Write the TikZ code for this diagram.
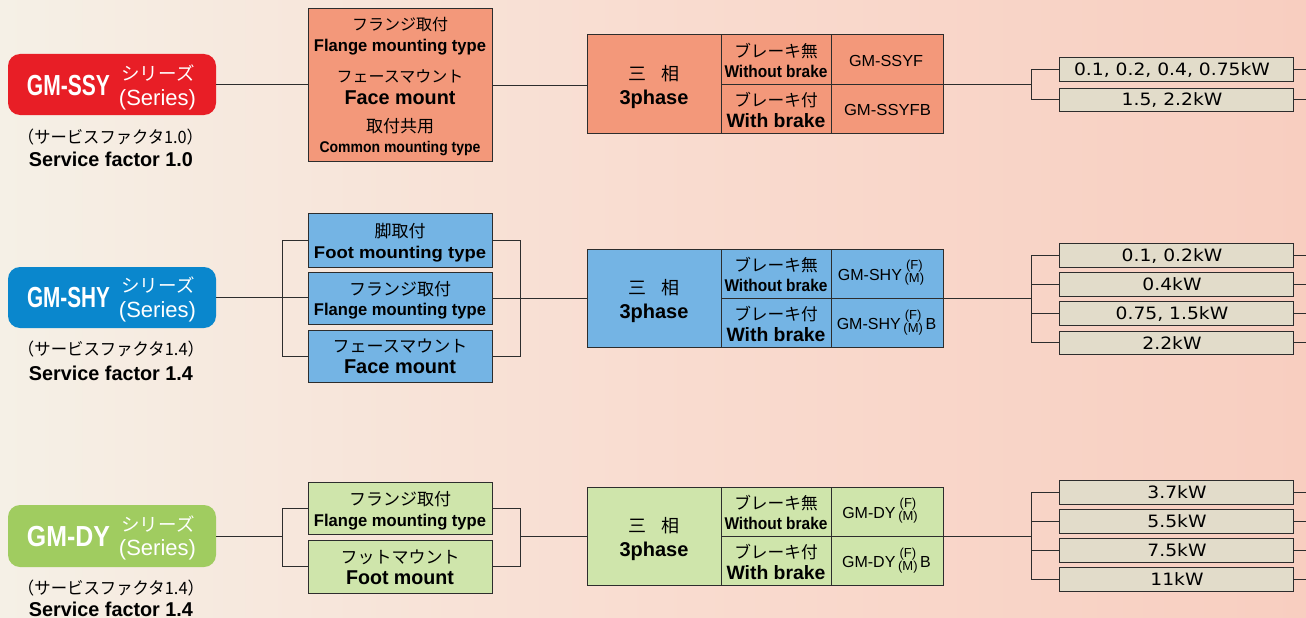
\documentclass[tikz,border=0pt]{standalone}
\usepackage{fontspec}
\setmainfont{Liberation Sans}
\newfontfamily\jp{Noto Sans CJK JP}
\newfontfamily\dv{DejaVu Sans}
\usepackage{graphicx}
\definecolor{ssyred}{RGB}{232,30,38}
\definecolor{shyblue}{RGB}{10,135,205}
\definecolor{dygreen}{RGB}{160,204,96}
\definecolor{salmon}{RGB}{243,152,122}
\definecolor{lblue}{RGB}{116,180,228}
\definecolor{lgreen}{RGB}{207,229,171}
\definecolor{beige}{RGB}{226,220,202}
\definecolor{edge}{RGB}{45,45,45}
\definecolor{bgl}{RGB}{245,240,230}
\definecolor{bgm}{RGB}{249,220,208}
\definecolor{bgr}{RGB}{248,206,192}
\newcommand\wfit[2]{\resizebox{#1pt}{\height}{#2}}
\newcommand\sxs[2]{\scalebox{#1}[1]{#2}}
\newcommand\mklbl[6][]{\node[lb,#1] (#2) at ({#3},{#4+0.36*#5}) {\fontsize{#5pt}{#5pt}\selectfont #6};}
\newcommand\mkrect[6]{\node[#6, anchor=north west, minimum width={(#4)-(#2)}, minimum height={(#5)-(#3)}] (#1) at ({#2},{#3}) {};}
\newcommand\fmstack{\raisebox{4pt}{\fontsize{13pt}{12pt}\selectfont\begin{tabular}[c]{@{}c@{}}(F)\\(M)\end{tabular}}}
\newcommand\mktable[7]{%
  \mkrect{#1a}{587}{#2}{721}{#2+98}{#3}
  \mkrect{#1b}{721}{#2}{831}{#2+49}{#3}
  \mkrect{#1c}{721}{#2+49}{831}{#2+98}{#3}
  \mkrect{#1d}{831}{#2}{943}{#2+49}{#3}
  \mkrect{#1e}{831}{#2+49}{943}{#2+98}{#3}
  \mklbl{#1a1}{654}{#2+39}{18}{\jp 三\hspace{15pt}相}
  \mklbl{#1a2}{654}{#2+62}{20}{\bfseries 3phase}
  \mklbl{#1b1}{776}{#2+16.5}{16.7}{\jp ブレーキ無}
  \mklbl{#1b2}{776}{#2+36}{17}{\wfit{103}{\bfseries Without brake}}
  \mklbl{#1c1}{776}{#2+65}{16.7}{\jp ブレーキ付}
  \mklbl{#1c2}{776}{#2+85.5}{19.3}{\wfit{99}{\bfseries With brake}}
  \mklbl{#1d1}{#4}{#2+25.5}{16}{#5}
  \mklbl{#1e1}{#6}{#2+75}{16}{#7}
}
\begin{document}
\begin{tikzpicture}[x=1pt,y=-1pt,
  lb/.style={inner sep=0pt, outer sep=0pt, anchor=base},
  badge/.style={rounded corners=12pt, inner sep=0pt, outer sep=0pt},
  mbox/.style={draw=edge, line width=1pt, inner sep=0pt, outer sep=0pt},
  sfill/.style={mbox, fill=salmon},
  bfill/.style={mbox, fill=lblue},
  gfill/.style={mbox, fill=lgreen},
  kbox/.style={mbox, fill=beige},
  ln/.style={draw=edge, line width=1pt}]
\useasboundingbox (0,0) rectangle (1306,618);
\shade[left color=bgl, right color=bgr, middle color=bgm] (0,0) rectangle (1306,618);

% ---------- badges ----------
\mkrect{b1}{8}{54}{216}{115}{badge, fill=ssyred}
\mklbl[text=white]{b1n}{68.5}{85}{29}{\wfit{83}{\bfseries GM-SSY}}
\mklbl[text=white]{b1s}{158}{74}{18.5}{\jp シリーズ}
\mklbl[text=white]{b1e}{157.5}{97.5}{22}{(Series)}
\mklbl{b1f}{110.5}{137}{17}{\wfit{185}{\jp （サービスファクタ1.0）}}
\mklbl{b1g}{111}{159}{20}{\wfit{164}{\bfseries Service factor 1.0}}

\mkrect{b2}{8}{267}{216}{328}{badge, fill=shyblue}
\mklbl[text=white]{b2n}{68.5}{297.5}{29}{\wfit{83}{\bfseries GM-SHY}}
\mklbl[text=white]{b2s}{158}{286}{18.5}{\jp シリーズ}
\mklbl[text=white]{b2e}{157.5}{310}{22}{(Series)}
\mklbl{b2f}{111}{349}{17}{\wfit{186}{\jp （サービスファクタ1.4）}}
\mklbl{b2g}{111}{373}{20}{\wfit{164}{\bfseries Service factor 1.4}}

\mkrect{b3}{8}{505}{216}{567}{badge, fill=dygreen}
\mklbl[text=white]{b3n}{68.5}{536.5}{29}{\wfit{83}{\bfseries GM-DY}}
\mklbl[text=white]{b3s}{158}{525}{18.5}{\jp シリーズ}
\mklbl[text=white]{b3e}{157.5}{547.5}{22}{(Series)}
\mklbl{b3f}{111}{588}{17}{\wfit{186}{\jp （サービスファクタ1.4）}}
\mklbl{b3g}{111}{609}{20}{\wfit{164}{\bfseries Service factor 1.4}}

% ---------- mounting boxes ----------
\mkrect{m1}{308}{9}{492}{161}{sfill}
\mklbl{m1a}{400}{25}{16}{\jp フランジ取付}
\mklbl{m1b}{400}{45}{17}{\wfit{172}{\bfseries Flange mounting type}}
\mklbl{m1c}{400}{77}{16}{\jp フェースマウント}
\mklbl{m1d}{400}{97}{20}{\wfit{111}{\bfseries Face mount}}
\mklbl{m1e}{400}{126}{17}{\jp 取付共用}
\mklbl{m1f}{400}{147}{15.5}{\wfit{161}{\bfseries Common mounting type}}

\mkrect{m21}{308}{213}{492}{267}{bfill}
\mklbl{m21a}{400}{231}{17}{\jp 脚取付}
\mklbl{m21b}{400}{252}{17}{\wfit{172}{\bfseries Foot mounting type}}
\mkrect{m22}{308}{272}{492}{324}{bfill}
\mklbl{m22a}{400}{289}{17}{\jp フランジ取付}
\mklbl{m22b}{400}{309}{17}{\wfit{172}{\bfseries Flange mounting type}}
\mkrect{m23}{308}{330}{492}{382}{bfill}
\mklbl{m23a}{400}{346}{17}{\jp フェースマウント}
\mklbl{m23b}{400}{366.5}{20}{\wfit{112}{\bfseries Face mount}}

\mkrect{m31}{308}{482}{492}{534}{gfill}
\mklbl{m31a}{400}{499.5}{17}{\jp フランジ取付}
\mklbl{m31b}{400}{520.5}{17}{\wfit{172}{\bfseries Flange mounting type}}
\mkrect{m32}{308}{540}{492}{593}{gfill}
\mklbl{m32a}{400}{557}{17}{\jp フットマウント}
\mklbl{m32b}{400}{577}{20}{\wfit{108}{\bfseries Foot mount}}

% ---------- phase tables ----------
\mktable{t1}{35}{sfill}{886}{\wfit{74}{GM-SSYF}}{887.5}{\wfit{87}{GM-SSYFB}}
\mktable{t2}{249}{bfill}{881}{GM-SHY\,\fmstack}{886.5}{GM-SHY\,\fmstack\,B}
\mktable{t3}{487}{gfill}{880}{GM-DY\,\fmstack}{886.5}{GM-DY\,\fmstack\,B}

% ---------- kW boxes ----------
\mkrect{k11}{1059}{58}{1293}{81}{kbox}
\mkrect{k12}{1059}{88}{1293}{111}{kbox}
\mklbl{k11t}{1172}{69.5}{17}{\dv\sxs{1.1}{0.1, 0.2, 0.4, 0.75kW}}
\mklbl{k12t}{1172}{99.5}{17}{\dv\sxs{1.1}{1.5, 2.2kW}}

\mkrect{k21}{1059}{243.5}{1293}{267}{kbox}
\mkrect{k22}{1059}{272.7}{1293}{296.2}{kbox}
\mkrect{k23}{1059}{301.9}{1293}{325.4}{kbox}
\mkrect{k24}{1059}{331.1}{1293}{354.6}{kbox}
\mklbl{k21t}{1172}{255.3}{17}{\dv\sxs{1.1}{0.1, 0.2kW}}
\mklbl{k22t}{1172}{284.5}{17}{\dv\sxs{1.1}{0.4kW}}
\mklbl{k23t}{1172}{313.7}{17}{\dv\sxs{1.1}{0.75, 1.5kW}}
\mklbl{k24t}{1172}{342.9}{17}{\dv\sxs{1.1}{2.2kW}}

\mkrect{k31}{1059}{480.5}{1293}{504.5}{kbox}
\mkrect{k32}{1059}{509.5}{1293}{533.5}{kbox}
\mkrect{k33}{1059}{538.5}{1293}{562.5}{kbox}
\mkrect{k34}{1059}{567.5}{1293}{591.5}{kbox}
\mklbl{k31t}{1177}{492.5}{17}{\dv\sxs{1.1}{3.7kW}}
\mklbl{k32t}{1177}{521.5}{17}{\dv\sxs{1.1}{5.5kW}}
\mklbl{k33t}{1177}{550.5}{17}{\dv\sxs{1.1}{7.5kW}}
\mklbl{k34t}{1177}{579.5}{17}{\dv\sxs{1.1}{11kW}}

% ---------- connectors ----------
\coordinate (edgeR) at (1306,0);
% top series
\draw[ln] (b1.east) -- (b1.east -| m1.west);
\draw[ln] (m1.east) -- (m1.east -| t1a.west);
\coordinate (j1) at (1031,84);
\draw[ln] (t1d.south east) -- (j1);
\draw[ln] (k11.west) -- (k11.west -| j1) -- (k12.west -| j1) -- (k12.west);
% middle series
\coordinate (L2) at (282,298);
\coordinate (R2) at (520,298);
\draw[ln] (b2.east) -- (b2.east -| m22.west);
\draw[ln] (m21.west) -- (m21.west -| L2) -- (m23.west -| L2) -- (m23.west);
\draw[ln] (m21.east) -- (m21.east -| R2) -- (m23.east -| R2) -- (m23.east);
\draw[ln] (m22.east) -- (m22.east -| t2a.west);
\coordinate (j2) at (1031,298);
\draw[ln] (t2d.south east) -- (j2);
\draw[ln] (k21.west) -- (k21.west -| j2) -- (k24.west -| j2) -- (k24.west);
\draw[ln] (k22.west -| j2) -- (k22.west);
\draw[ln] (k23.west -| j2) -- (k23.west);
% bottom series
\coordinate (L3) at (282,536);
\coordinate (R3) at (520,536);
\draw[ln] (b3.east) -- (L3);
\draw[ln] (m31.west) -- (m31.west -| L3) -- (m32.west -| L3) -- (m32.west);
\draw[ln] (m31.east) -- (m31.east -| R3) -- (m32.east -| R3) -- (m32.east);
\draw[ln] (R3) -- (R3 -| t3a.west);
\coordinate (j3) at (1031,536);
\draw[ln] (t3d.south east) -- (j3);
\draw[ln] (k31.west) -- (k31.west -| j3) -- (k34.west -| j3) -- (k34.west);
\draw[ln] (k32.west -| j3) -- (k32.west);
\draw[ln] (k33.west -| j3) -- (k33.west);
% right stubs
\foreach \k in {k11,k12,k21,k22,k23,k24,k31,k32,k33,k34}
  \draw[ln] (\k.east) -- (\k.east -| edgeR);
\end{tikzpicture}
\end{document}
